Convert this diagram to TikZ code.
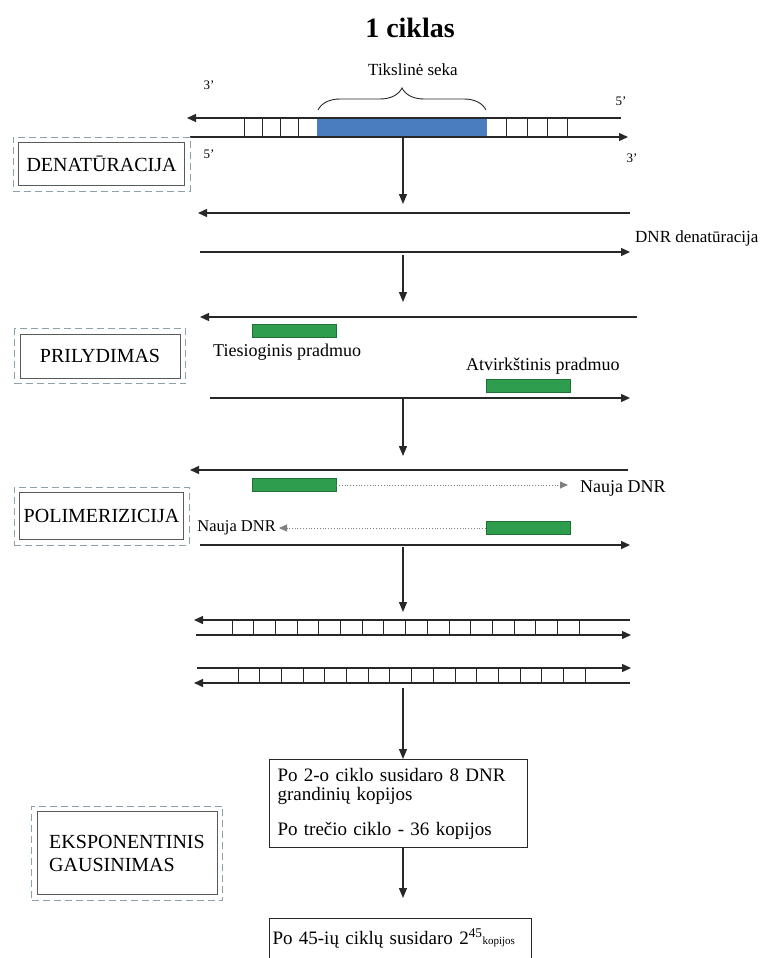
\documentclass[tikz,border=0pt]{standalone}
\usepackage{fontspec}
\setmainfont{Liberation Serif}
\usetikzlibrary{arrows.meta,decorations.pathreplacing,fit}
\definecolor{dashc}{RGB}{140,162,170}
\definecolor{blueseq}{RGB}{74,124,192}
\definecolor{primer}{RGB}{46,158,78}
\definecolor{ink}{RGB}{40,40,40}
\tikzset{
  strandL/.style={draw=ink,line width=1.4pt,{Triangle[length=9pt,width=8pt]}-},
  strandR/.style={draw=ink,line width=1.4pt,-{Triangle[length=9pt,width=8pt]}},
  rung/.style={draw=ink,line width=1pt},
  flow/.style={draw=ink,line width=1.3pt,-{Triangle[length=10pt,width=8pt]}},
  newdna/.style={draw=gray,line width=0.8pt,dotted,-{Triangle[length=8pt,width=7pt]}},
  stepbox/.style={draw=gray!70!black,line width=1pt,inner sep=0pt,font=\fontsize{20}{23}\selectfont},
  outerbox/.style={draw=dashc,line width=1pt,dash pattern=on 7pt off 4pt,inner sep=5pt},
  primerbox/.style={fill=primer,draw=primer!70!black,line width=0.5pt,minimum width=84,minimum height=13,inner sep=0pt},
  small/.style={font=\fontsize{13}{15}\selectfont,inner sep=0pt},
  txt/.style={font=\fontsize{18}{20}\selectfont,inner sep=0pt},
  infobox/.style={draw=ink,line width=1pt,font=\fontsize{19}{19}\selectfont,inner xsep=8pt,inner ysep=6pt,align=left}
}
\begin{document}
\begin{tikzpicture}[x=1pt,y=-1pt]
\useasboundingbox (0,0) rectangle (765,958);
% title
\node[font=\bfseries\fontsize{28}{30}\selectfont] (title) at (410,28) {1 ciklas};
% ---- original double strand
\coordinate (a1l) at (187,118); \coordinate (a1r) at (621,118);
\coordinate (a2l) at (190,137); \coordinate (a2r) at (628,137);
\fill[blueseq] (317,118) rectangle (487,137);
\foreach \x in {244,262,280,298,506,527,547,567} \draw[rung] (\x,118) -- (\x,137);
\draw[strandL] (a1l) -- (a1r);
\draw[strandR] (a2l) -- (a2r);
\draw[ink,line width=0.9pt,decorate,decoration={brace,amplitude=22pt}] (318,110) -- (486,110);
\node[small,font=\fontsize{17}{18}\selectfont] (target) at (413,70) {Tikslinė seka};
\node[small] (e3a) at (209,85) {3'};
\node[small] (e5a) at (621,101) {5'};
\node[small] (e5b) at (209,154) {5'};
\node[small] (e3b) at (632,158) {3'};
% step boxes
\node[stepbox,minimum width=166,minimum height=43] (den) at (101.5,164) {DENATŪRACIJA};
\node[outerbox,fit=(den)] (denO) {};
\node[stepbox,minimum width=160,minimum height=44] (pril) at (100,356) {PRILYDIMAS};
\node[outerbox,fit=(pril)] (prilO) {};
\node[stepbox,minimum width=164,minimum height=47] (poli) at (101.5,516) {POLIMERIZICIJA};
\node[outerbox,fit=(poli)] (poliO) {};
\node[stepbox,minimum width=180,minimum height=83,align=left] (eksp) at (127,853) {EKSPONENTINIS\\GAUSINIMAS};
\node[outerbox,fit=(eksp)] (ekspO) {};
% arrow 1
\coordinate (f1a) at (403,137); \coordinate (f1b) at (403,204);
\draw[flow] (f1a) -- (f1b);
% ---- denatured
\coordinate (b1l) at (198,213); \coordinate (b1r) at (630,213);
\coordinate (b2l) at (200,252); \coordinate (b2r) at (630,252);
\draw[strandL] (b1l) -- (b1r);
\draw[strandR] (b2l) -- (b2r);
\node[small,font=\fontsize{17}{18}\selectfont,anchor=west] (denlbl) at (635,238) {DNR denatūracija};
\coordinate (f2a) at (403,255); \coordinate (f2b) at (403,302);
\draw[flow] (f2a) -- (f2b);
% ---- annealing
\coordinate (c1l) at (200,317); \coordinate (c1r) at (637,317);
\coordinate (c2l) at (210,398); \coordinate (c2r) at (630,398);
\draw[strandL] (c1l) -- (c1r);
\draw[strandR] (c2l) -- (c2r);
\node[primerbox] (p1) at (294.5,331) {};
\node[primerbox] (p2) at (528,386) {};
\node[txt,anchor=west] (fwd) at (213,352) {Tiesioginis pradmuo};
\node[txt,anchor=west] (rev) at (466,366) {Atvirkštinis pradmuo};
\coordinate (f3a) at (403,398); \coordinate (f3b) at (403,456);
\draw[flow] (f3a) -- (f3b);
% ---- polymerisation
\coordinate (d1l) at (190,470); \coordinate (d1r) at (628,470);
\coordinate (d2l) at (200,545); \coordinate (d2r) at (630,545);
\draw[strandL] (d1l) -- (d1r);
\draw[strandR] (d2l) -- (d2r);
\node[primerbox] (p3) at (294,485) {};
\node[primerbox] (p4) at (528,528) {};
\node[txt,anchor=west] (nd1) at (580,488) {Nauja DNR};
\node[txt,font=\fontsize{16.5}{17}\selectfont,anchor=east] (nd2) at (276,528) {Nauja DNR};
\draw[newdna] (p3.east) -- ([xshift=-12pt]nd1.west |- p3.east);
\draw[newdna] (p4.west) -- ([xshift=3pt]nd2.east |- p4.west);
\coordinate (f4a) at (403,547); \coordinate (f4b) at (403,612);
\draw[flow] (f4a) -- (f4b);
% ---- products
\foreach \x in {0,...,16} {
  \draw[rung] (232+21.7*\x,620) -- (232+21.7*\x,635);
  \draw[rung] (238+21.7*\x,668) -- (238+21.7*\x,683);
}
\coordinate (e1l) at (194,620); \coordinate (e1r) at (630,620);
\coordinate (e2l) at (196,635); \coordinate (e2r) at (631,635);
\draw[strandL] (e1l) -- (e1r);
\draw[strandR] (e2l) -- (e2r);
\coordinate (g1l) at (197,668); \coordinate (g1r) at (631,668);
\coordinate (g2l) at (194,683); \coordinate (g2r) at (630,683);
\draw[strandR] (g1l) -- (g1r);
\draw[strandL] (g2l) -- (g2r);
\coordinate (f5a) at (403,688);
% ---- info boxes
\node[infobox,minimum width=258,minimum height=88,anchor=north west,text width=242] (info1) at (269,759)
 {Po 2-o ciklo susidaro 8 DNR\\grandinių kopijos\\[16pt]Po trečio ciklo - 36 kopijos};
\draw[flow] (f5a) -- (info1.north -| f5a);
\node[infobox,minimum width=262,minimum height=40,anchor=north west,inner xsep=3pt,text width=256] (info2) at (269,918)
 {Po 45-ių ciklų susidaro 2\textsuperscript{45}{\fontsize{11}{11}\selectfont kopijos}};
\draw[flow] (info1.south -| f5a) -- ([yshift=20pt]info2.north -| f5a);
\end{tikzpicture}
\end{document}
